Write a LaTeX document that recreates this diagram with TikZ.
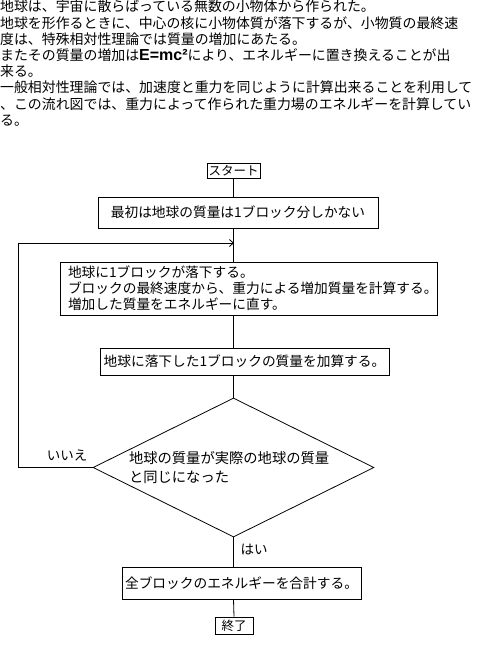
\documentclass[tikz,border=0pt]{standalone}
\usepackage{fontspec}
\setmainfont{Noto Sans CJK JP}
\newfontfamily\eqfont{Liberation Sans}
\usetikzlibrary{arrows.meta,shapes.geometric}
\tikzset{
  stepbox/.style={
    draw,
    line width=0.8pt,
    align=center,
    font=\fontsize{13.7}{16}\selectfont,
    inner sep=2pt
  },
  termbox/.style={stepbox, font=\fontsize{12.5}{14}\selectfont, inner sep=1pt},
  decision/.style={
    diamond,
    draw,
    line width=0.8pt,
    aspect=2,
    inner sep=0pt,
    align=left,
    text width=209pt,
    font=\fontsize{14.3}{19}\selectfont
  },
  line/.style={line width=0.8pt},
  arrow/.style={line, -{Straight Barb[length=4pt,width=7pt]}},
  answer/.style={font=\fontsize{13.5}{16}\selectfont, inner sep=0pt}
}

\begin{document}
\begin{tikzpicture}[x=1pt,y=-1pt]
  \path[use as bounding box, fill=white] (0,0) rectangle (481,653);

  \node[anchor=north west, inner sep=0pt, align=left, font=\fontsize{13.9}{16.2}\selectfont] (intro) at (0,0) {
    地球は、宇宙に散らばっている無数の小物体から作られた。\\
    地球を形作るときに、中心の核に小物体質が落下するが、小物質の最終速\\
    度は、特殊相対性理論では質量の増加にあたる。\\
    またその質量の増加は{\eqfont\bfseries\fontsize{16}{16}\selectfont E=mc²}により、エネルギーに置き換えることが出\\
    来る。\\
    一般相対性理論では、加速度と重力を同じように計算出来ることを利用して\\
    、この流れ図では、重力によって作られた重力場のエネルギーを計算してい\\
    る。
  };

  \node[termbox, minimum width=53pt, minimum height=15pt] (start) at (233.5,170.5) {スタート};
  \node[stepbox, minimum width=280pt, minimum height=31pt] (s1) at (238,212.5) {最初は地球の質量は1ブロック分しかない};
  \node[stepbox, align=left, text width=361pt, inner xsep=8pt, minimum height=53pt] (s2) at (248.5,288.5) {
    地球に1ブロックが落下する。\\
    ブロックの最終速度から、重力による増加質量を計算する。\\
    増加した質量をエネルギーに直す。
  };
  \node[stepbox, minimum width=289pt, minimum height=27pt] (s3) at (244.5,361.5) {地球に落下した1ブロックの質量を加算する。};
  \node[decision, minimum width=281pt, minimum height=139pt] (check) at (233.5,467.5) {
    地球の質量が実際の地球の質量\\
    と同じになった
  };
  \node[stepbox, minimum width=239pt, minimum height=32pt] (s4) at (241.5,583) {全ブロックのエネルギーを合計する。};
  \node[termbox, minimum width=38pt, minimum height=17pt] (stop) at (234,625.5) {終了};

  \node[answer] (no) at (67,455) {いいえ};
  \node[answer] (yes) at (254,550) {はい};

  \coordinate (join) at (234,243);
  \coordinate (back) at (18,243);

  \draw[line] (start.south) -- (start.south |- s1.north);
  \draw[line] (start.south |- s1.south) -- (start.south |- s2.north);
  \draw[line] (start.south |- s2.south) -- (start.south |- s3.north);
  \draw[line] (start.south |- s3.south) -- (check.north);
  \draw[line] (check.south) -- (check.south |- s4.north);
  \draw[line] (check.south |- s4.south) -- (stop.north);
  \draw[arrow] (check.west) -| (back) -- (join);
\end{tikzpicture}
\end{document}
